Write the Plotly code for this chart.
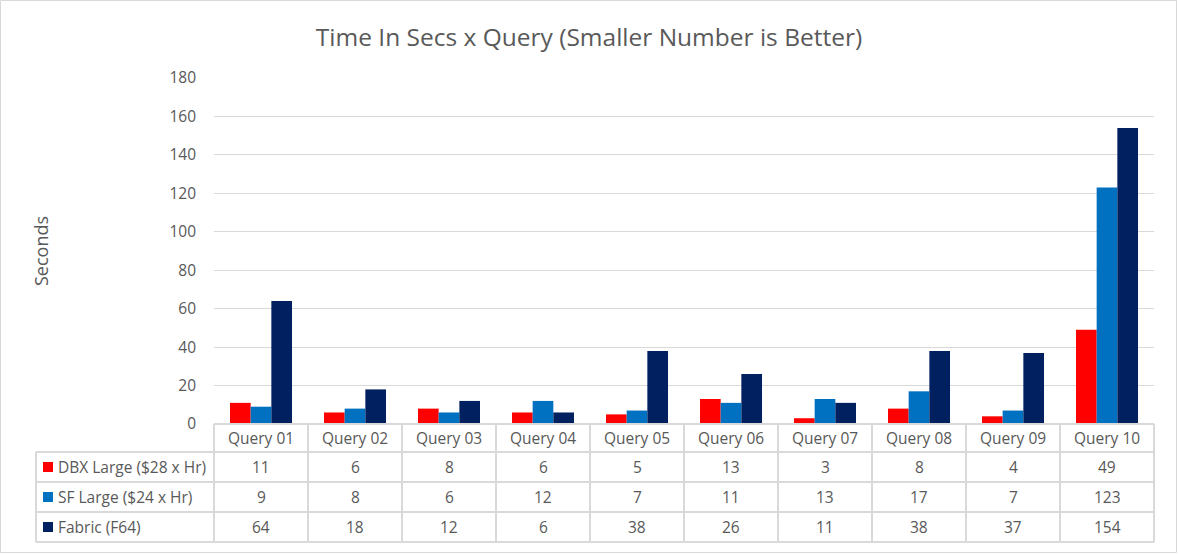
import plotly.graph_objects as go

categories = ["Query 01", "Query 02", "Query 03", "Query 04", "Query 05",
              "Query 06", "Query 07", "Query 08", "Query 09", "Query 10"]
series_names = ["DBX Large ($28 x Hr)", "SF Large ($24 x Hr)", "Fabric (F64)"]
dbx = [11, 6, 8, 6, 5, 13, 3, 8, 4, 49]
sf = [9, 8, 6, 12, 7, 11, 13, 17, 7, 123]
fabric = [64, 18, 12, 6, 38, 26, 11, 38, 37, 154]
colors = ["#FF0000", "#0070C0", "#002060"]
y_ticks = [0, 20, 40, 60, 80, 100, 120, 140, 160, 180]

W, H = 1178, 554
L, R, T, B = 214, 1154, 78, 424
pw, ph = R - L, B - T

def px(x):
    return (x - L) / pw

def py(y):
    return (B - y) / ph

font = "Open Sans"
txt = "#595959"
grid = "#D9D9D9"
fs = 15.5

fig = go.Figure()
for name, vals, c in zip(series_names, [dbx, sf, fabric], colors):
    fig.add_trace(go.Bar(x=categories, y=vals, name=name, marker_color=c,
                         marker_line_width=0, showlegend=False))

shapes = []
annotations = []

header_top, header_bot = 424, 452
row_bounds = [452, 482, 512, 542]
legend_left = 36

def hline(x0, x1, y):
    shapes.append(dict(type="line", xref="paper", yref="paper",
                       x0=px(x0), x1=px(x1), y0=py(y), y1=py(y),
                       line=dict(color=grid, width=2)))

def vline(x, y0, y1):
    shapes.append(dict(type="line", xref="paper", yref="paper",
                       x0=px(x), x1=px(x), y0=py(y0), y1=py(y1),
                       line=dict(color=grid, width=2)))

hline(L, R, header_top)
for yb in row_bounds:
    hline(legend_left, R, yb)
vline(legend_left, row_bounds[0], row_bounds[-1])
n = len(categories)
for k in range(n + 1):
    vline(L + pw * k / n, header_top, row_bounds[-1])

for cat in categories:
    annotations.append(dict(x=cat, xref="x", y=py((header_top + header_bot) / 2),
                            yref="paper", text=cat, showarrow=False,
                            xanchor="center", yanchor="middle",
                            font=dict(family=font, size=fs, color=txt)))

for i, (name, vals, c) in enumerate(zip(series_names, [dbx, sf, fabric], colors)):
    yc = (row_bounds[i] + row_bounds[i + 1]) / 2
    shapes.append(dict(type="rect", xref="paper", yref="paper",
                       x0=px(43), x1=px(53), y0=py(yc - 5), y1=py(yc + 5),
                       fillcolor=c, line=dict(width=0)))
    annotations.append(dict(x=px(56), xref="paper", y=py(yc), yref="paper",
                            text=name, showarrow=False, xanchor="left",
                            yanchor="middle",
                            font=dict(family=font, size=fs, color=txt)))
    for cat, v in zip(categories, vals):
        annotations.append(dict(x=cat, xref="x", y=py(yc), yref="paper",
                                text=str(v), showarrow=False,
                                xanchor="center", yanchor="middle",
                                font=dict(family=font, size=fs, color=txt)))

annotations.append(dict(x=px(41), xref="paper", y=py(251), yref="paper",
                        text="Seconds", textangle=-90, showarrow=False,
                        xanchor="center", yanchor="middle",
                        font=dict(family=font, size=18, color=txt)))

shapes.append(dict(type="rect", xref="paper", yref="paper",
                   x0=px(0.5), x1=px(W - 1.5), y0=py(0.5), y1=py(H - 1.5),
                   line=dict(color=grid, width=1)))

fig.update_layout(
    width=W, height=H,
    margin=dict(l=L, r=W - R, t=T, b=H - B, pad=0),
    paper_bgcolor="white", plot_bgcolor="white",
    title=dict(text="Time In Secs x Query (Smaller Number is Better)",
               x=0.5, xref="container", xanchor="center",
               y=1 - 37 / H, yanchor="middle",
               font=dict(family=font, size=24.5, color=txt)),
    barmode="group", bargap=0.34, bargroupgap=0,
    xaxis=dict(showticklabels=False, showgrid=False, zeroline=False,
               showline=False, ticks=""),
    yaxis=dict(range=[0, 180], tickvals=y_ticks, showgrid=True, gridcolor=grid,
               gridwidth=1, zeroline=False, showline=False, ticks="",
               ticklabelstandoff=17,
               tickfont=dict(family=font, size=fs, color=txt)),
    shapes=shapes, annotations=annotations,
)

fig.write_html("out.html", config={"displayModeBar": False},
               post_script="document.body.style.margin='0';document.body.style.overflow='hidden';")
